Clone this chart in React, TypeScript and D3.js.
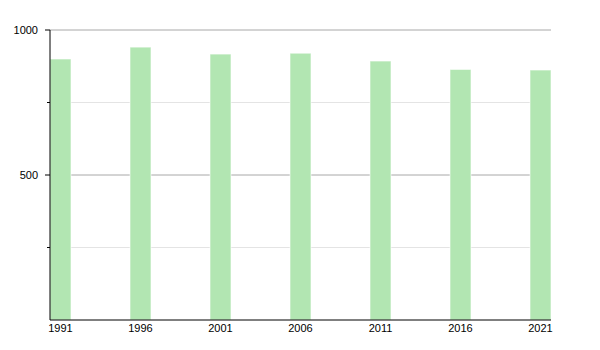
import React from "react";
import * as d3 from "d3";

const years = ["1991", "1996", "2001", "2006", "2011", "2016", "2021"];
const population = [900, 941, 917, 920, 893, 864, 862];
const majorTicks = [500, 1000];
const minorTicks = [250, 750];

export default function App() {
  const width = 600;
  const height = 350;
  const left = 50;
  const right = 551;
  const top = 30;
  const bottom = 320;
  const barW = 21;

  const x = d3.scalePoint<string>().domain(years).range([left, right - barW]);
  const y = d3.scaleLinear().domain([0, 1000]).range([bottom, top]);

  return (
    <svg
      width={width}
      height={height}
      style={{ position: "absolute", left: 0, top: 0, fontFamily: "Liberation Sans, Arial, sans-serif" }}
    >
      <rect width={width} height={height} fill="#fff" />
      {minorTicks.map((t) => (
        <line key={"mg" + t} x1={left} x2={right} y1={y(t)} y2={y(t)} stroke="#e4e4e4" strokeWidth={1} />
      ))}
      {majorTicks.map((t) => (
        <line key={"Mg" + t} x1={left} x2={right} y1={y(t)} y2={y(t)} stroke="#a8a8a8" strokeWidth={1} />
      ))}
      {years.map((yr, i) => (
        <rect
          key={yr}
          x={x(yr)!}
          y={y(population[i])}
          width={barW}
          height={bottom - y(population[i])}
          fill="#b2e6b2"
          stroke="#fff"
          strokeOpacity={0.6}
          strokeWidth={1}
        />
      ))}
      <line x1={left} x2={left} y1={top} y2={bottom} stroke="#000" strokeWidth={1} />
      <line x1={left} x2={right} y1={bottom} y2={bottom} stroke="#000" strokeWidth={1} />
      {majorTicks.map((t) => (
        <g key={"t" + t}>
          <line x1={left - 5} x2={left} y1={y(t)} y2={y(t)} stroke="#000" />
          <text x={left - 12} y={y(t)} dy="0.35em" textAnchor="end" fontSize={11} fill="#000">
            {t}
          </text>
        </g>
      ))}
      {minorTicks.map((t) => (
        <line key={"mt" + t} x1={left - 3} x2={left} y1={y(t)} y2={y(t)} stroke="#000" />
      ))}
      {years.map((yr) => (
        <text key={"l" + yr} x={x(yr)! + barW / 2} y={bottom + 12} textAnchor="middle" fontSize={11} fill="#000">
          {yr}
        </text>
      ))}
    </svg>
  );
}
